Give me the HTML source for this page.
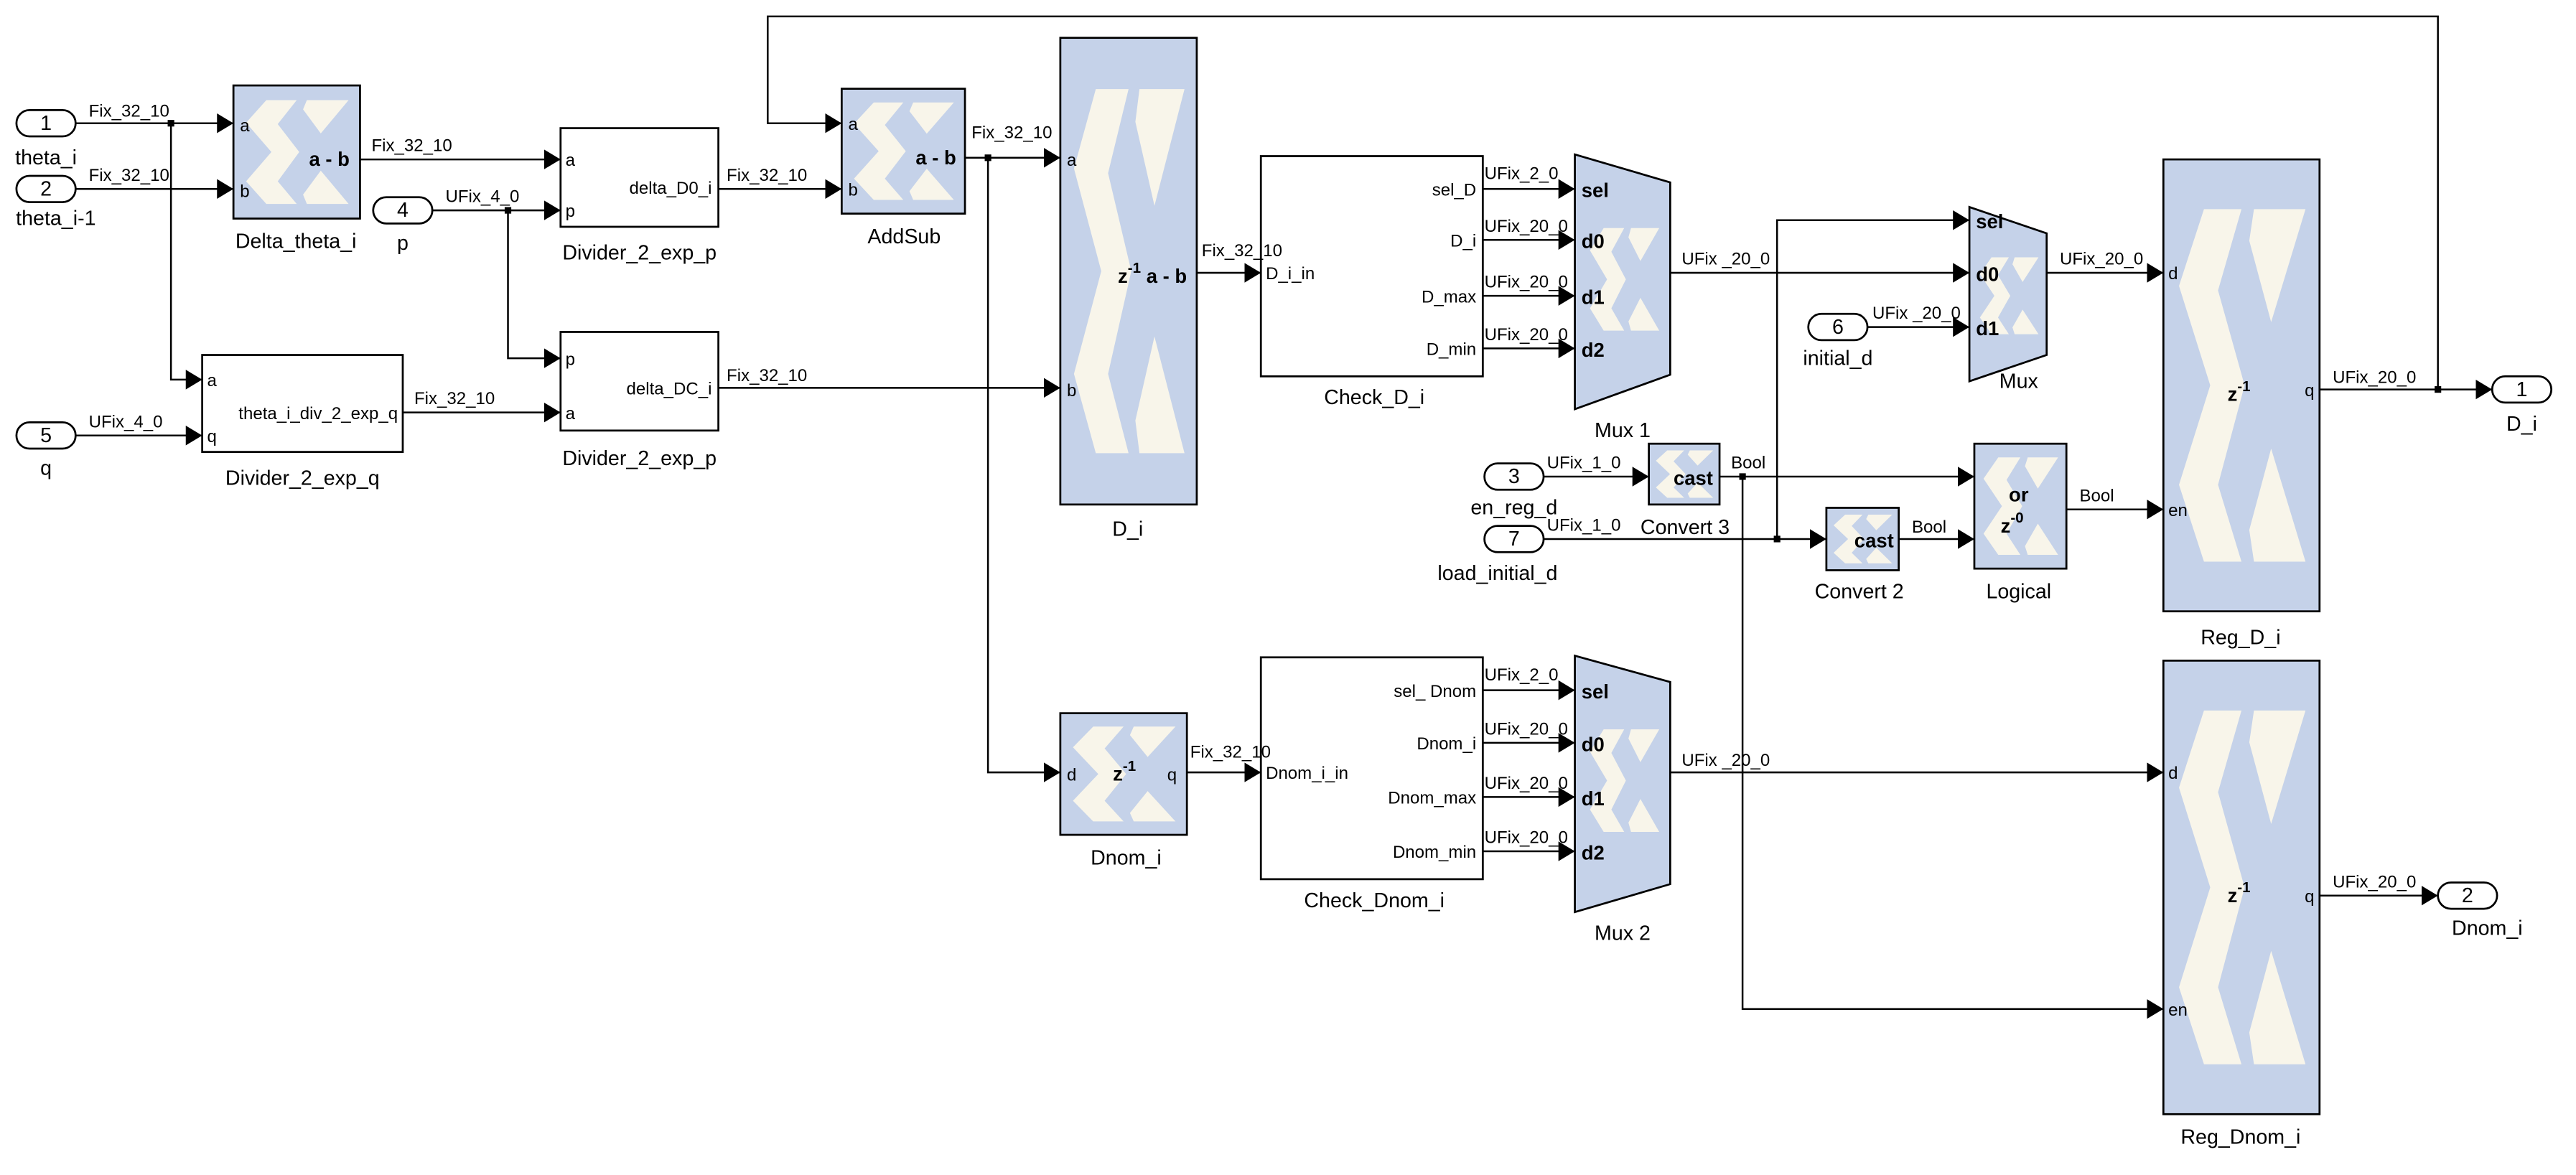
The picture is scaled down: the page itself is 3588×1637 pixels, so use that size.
<!DOCTYPE html>
<html><head><meta charset="utf-8"><style>
html,body{margin:0;padding:0;background:#fff;}
svg{display:block;}
text{font-family:"Liberation Sans Narrow","Liberation Sans",sans-serif;fill:#000;}
.w{font-size:10.5px;}
.p{font-size:10.5px;}
.n{font-size:12.5px;}
.b{font-size:12px;font-weight:bold;font-family:"Liberation Sans",sans-serif;}
.blk{fill:#c5d2e9;stroke:#000;stroke-width:1.2;}
.wb{fill:#fff;stroke:#000;stroke-width:1.2;}
.ln{fill:none;stroke:#000;stroke-width:1.1;}
</style></head><body>
<svg width="3588" height="1637" viewBox="0 0 1567 715" preserveAspectRatio="none" xmlns="http://www.w3.org/2000/svg">
<defs>
<marker id="a" markerUnits="userSpaceOnUse" markerWidth="11" markerHeight="13" refX="10" refY="6" orient="auto"><path d="M0,0 L10,6 L0,12 Z" fill="#000"/></marker>
<symbol id="x" viewBox="0 0 100 100" preserveAspectRatio="none">
<path fill="#f8f5ea" d="M26,11 L50,11 L35,29 L52,50 L35,72 L50,89 L26,89 L10,72 L30,50 L10,28 Z"/>
<path fill="#f8f5ea" d="M58,11 L91,11 L69,36 L55,18 Z"/>
<path fill="#f8f5ea" d="M69,64 L91,89 L58,89 L55,82 Z"/>
</symbol>
</defs>

<g class="ln" marker-end="url(#a)">
<path d="M46,75 H142"/>
<path d="M46,115 H142"/>
<path d="M104,75 V231 H123"/>
<path d="M46,265 H123"/>
<path d="M219,97 H341"/>
<path d="M263,128 H341"/>
<path d="M309,128 V218 H341"/>
<path d="M245,251 H341"/>
<path d="M437,115 H512"/>
<path d="M437,236 H645"/>
<path d="M1411,237 H1516"/>
<path d="M1483,237 V10 H467 V75 H512"/>
<path d="M587,96 H645"/>
<path d="M601,96 V470 H645"/>
<path d="M728,166 H767"/>
<path d="M902,115 H958"/>
<path d="M902,146 H958"/>
<path d="M902,180 H958"/>
<path d="M902,212 H958"/>
<path d="M1016,166 H1198"/>
<path d="M1081,328 V134 H1198"/>
<path d="M1136,199 H1198"/>
<path d="M1245,166 H1316"/>
<path d="M939,290 H1003"/>
<path d="M1046,290 H1201"/>
<path d="M1060,290 V614 H1316"/>
<path d="M939,328 H1111"/>
<path d="M1155,328 H1201"/>
<path d="M1257,310 H1316"/>
<path d="M722,470 H767"/>
<path d="M902,420 H958"/>
<path d="M902,452 H958"/>
<path d="M902,485 H958"/>
<path d="M902,518 H958"/>
<path d="M1016,470 H1316"/>
<path d="M1411,545 H1483"/>
</g>
<g fill="#000">
<rect x="102" y="73" width="4" height="4"/><rect x="307" y="126" width="4" height="4"/>
<rect x="599" y="94" width="4" height="4"/><rect x="1481" y="235" width="4" height="4"/>
<rect x="1079" y="326" width="4" height="4"/><rect x="1058" y="288" width="4" height="4"/>
</g>

<g class="wb">
<rect x="10" y="67" width="36" height="16" rx="8"/>
<rect x="10" y="107" width="36" height="16" rx="8"/>
<rect x="227" y="120" width="36" height="16" rx="8"/>
<rect x="10" y="257" width="36" height="16" rx="8"/>
<rect x="1100" y="191" width="36" height="16" rx="8"/>
<rect x="903" y="282" width="36" height="16" rx="8"/>
<rect x="903" y="320" width="36" height="16" rx="8"/>
<rect x="1516" y="229" width="36" height="16" rx="8"/>
<rect x="1483" y="537" width="36" height="16" rx="8"/>
</g>
<g class="n" text-anchor="middle">
<text x="28" y="79">1</text><text x="28" y="119">2</text><text x="245" y="132">4</text>
<text x="28" y="269">5</text><text x="1118" y="203">6</text><text x="921" y="294">3</text>
<text x="921" y="332">7</text><text x="1534" y="241">1</text><text x="1501" y="549">2</text>
<text x="28" y="100">theta_i</text><text x="34" y="137">theta_i-1</text><text x="245" y="152">p</text>
<text x="28" y="289">q</text><text x="1118" y="222">initial_d</text><text x="921" y="313">en_reg_d</text>
<text x="911" y="353">load_initial_d</text><text x="1534" y="262">D_i</text><text x="1513" y="569">Dnom_i</text>
</g>

<rect class="blk" x="142" y="52" width="77" height="81"/><use href="#x" x="142" y="52" width="77" height="81"/>
<rect class="blk" x="512" y="54" width="75" height="76"/><use href="#x" x="512" y="54" width="75" height="76"/>
<rect class="blk" x="645" y="23" width="83" height="284"/><use href="#x" x="645" y="23" width="83" height="284"/>
<rect class="blk" x="645" y="434" width="77" height="74"/><use href="#x" x="645" y="434" width="77" height="74"/>
<rect class="blk" x="1003" y="270" width="43" height="37"/><use href="#x" x="1003" y="270" width="43" height="37"/>
<rect class="blk" x="1111" y="309" width="44" height="38"/><use href="#x" x="1111" y="309" width="44" height="38"/>
<rect class="blk" x="1201" y="270" width="56" height="76"/><use href="#x" x="1201" y="270" width="56" height="76"/>
<rect class="blk" x="1316" y="97" width="95" height="275"/><use href="#x" x="1316" y="97" width="95" height="275"/>
<rect class="blk" x="1316" y="402" width="95" height="276"/><use href="#x" x="1316" y="402" width="95" height="276"/>
<path class="blk" d="M958,94 L1016,111 L1016,228 L958,249 Z"/><use href="#x" x="962" y="130" width="52" height="80"/>
<path class="blk" d="M1198,126 L1245,142 L1245,216 L1198,232 Z"/><use href="#x" x="1200" y="150" width="44" height="60"/>
<path class="blk" d="M958,399 L1016,415 L1016,538 L958,555 Z"/><use href="#x" x="962" y="435" width="52" height="80"/>

<rect class="wb" x="341" y="78" width="96" height="60"/>
<rect class="wb" x="341" y="202" width="96" height="60"/>
<rect class="wb" x="123" y="216" width="122" height="59"/>
<rect class="wb" x="767" y="95" width="135" height="134"/>
<rect class="wb" x="767" y="400" width="135" height="135"/>

<g class="p">
<text x="146" y="80">a</text><text x="146" y="120">b</text>
<text x="516" y="79">a</text><text x="516" y="119">b</text>
<text x="649" y="101">a</text><text x="649" y="241">b</text>
<text x="649" y="475">d</text><text x="710" y="475">q</text>
<text x="344" y="101">a</text><text x="344" y="132">p</text>
<text x="344" y="222">p</text><text x="344" y="255">a</text>
<text x="126" y="235">a</text><text x="126" y="269">q</text>
<text x="770" y="170">D_i_in</text><text x="770" y="474">Dnom_i_in</text>
<text x="1319" y="170">d</text><text x="1319" y="314">en</text><text x="1402" y="241">q</text>
<text x="1319" y="474">d</text><text x="1319" y="618">en</text><text x="1402" y="549">q</text>
</g>
<g class="p" text-anchor="end">
<text x="433" y="118">delta_D0_i</text><text x="433" y="240">delta_DC_i</text>
<text x="242" y="255">theta_i_div_2_exp_q</text>
<text x="898" y="119">sel_D</text><text x="898" y="150">D_i</text><text x="898" y="184">D_max</text><text x="898" y="216">D_min</text>
<text x="898" y="424">sel_ Dnom</text><text x="898" y="456">Dnom_i</text><text x="898" y="489">Dnom_max</text><text x="898" y="522">Dnom_min</text>
</g>
<g class="b">
<text x="188" y="101">a - b</text><text x="557" y="100">a - b</text>
<text x="680" y="172">z<tspan dy="-6" font-size="9">-1</tspan><tspan dy="6"> a - b</tspan></text>
<text x="677" y="475">z<tspan dy="-6" font-size="9">-1</tspan></text>
<text x="1355" y="244">z<tspan dy="-6" font-size="9">-1</tspan></text>
<text x="1355" y="549">z<tspan dy="-6" font-size="9">-1</tspan></text>
<text x="1018" y="295">cast</text><text x="1128" y="333">cast</text>
<text x="1222" y="305">or</text><text x="1217" y="324">z<tspan dy="-6" font-size="9">-0</tspan></text>
<text x="962" y="120">sel</text><text x="962" y="151">d0</text><text x="962" y="185">d1</text><text x="962" y="217">d2</text>
<text x="962" y="425">sel</text><text x="962" y="457">d0</text><text x="962" y="490">d1</text><text x="962" y="523">d2</text>
<text x="1202" y="139">sel</text><text x="1202" y="171">d0</text><text x="1202" y="204">d1</text>
</g>

<g class="w">
<text x="54" y="71">Fix_32_10</text><text x="54" y="110">Fix_32_10</text><text x="54" y="260">UFix_4_0</text>
<text x="226" y="92">Fix_32_10</text><text x="271" y="123">UFix_4_0</text><text x="252" y="246">Fix_32_10</text>
<text x="442" y="110">Fix_32_10</text><text x="442" y="232">Fix_32_10</text>
<text x="591" y="84">Fix_32_10</text><text x="731" y="156">Fix_32_10</text><text x="724" y="461">Fix_32_10</text>
<text x="903" y="109">UFix_2_0</text><text x="903" y="141">UFix_20_0</text><text x="903" y="175">UFix_20_0</text><text x="903" y="207">UFix_20_0</text>
<text x="903" y="414">UFix_2_0</text><text x="903" y="447">UFix_20_0</text><text x="903" y="480">UFix_20_0</text><text x="903" y="513">UFix_20_0</text>
<text x="1023" y="161">UFix _20_0</text><text x="1023" y="466">UFix _20_0</text>
<text x="1139" y="194">UFix _20_0</text><text x="1253" y="161">UFix_20_0</text>
<text x="941" y="285">UFix_1_0</text><text x="941" y="323">UFix_1_0</text>
<text x="1053" y="285">Bool</text><text x="1163" y="324">Bool</text><text x="1265" y="305">Bool</text>
<text x="1419" y="233">UFix_20_0</text><text x="1419" y="540">UFix_20_0</text>
</g>

<g class="n" text-anchor="middle">
<text x="180" y="151">Delta_theta_i</text><text x="550" y="148">AddSub</text>
<text x="389" y="158">Divider_2_exp_p</text><text x="389" y="283">Divider_2_exp_p</text>
<text x="184" y="295">Divider_2_exp_q</text><text x="686" y="326">D_i</text><text x="685" y="526">Dnom_i</text>
<text x="836" y="246">Check_D_i</text><text x="836" y="552">Check_Dnom_i</text>
<text x="987" y="266">Mux 1</text><text x="987" y="572">Mux 2</text><text x="1228" y="236">Mux</text>
<text x="1025" y="325">Convert 3</text><text x="1131" y="364">Convert 2</text><text x="1228" y="364">Logical</text>
<text x="1363" y="392">Reg_D_i</text><text x="1363" y="696">Reg_Dnom_i</text>
</g>
</svg>
</body></html>
